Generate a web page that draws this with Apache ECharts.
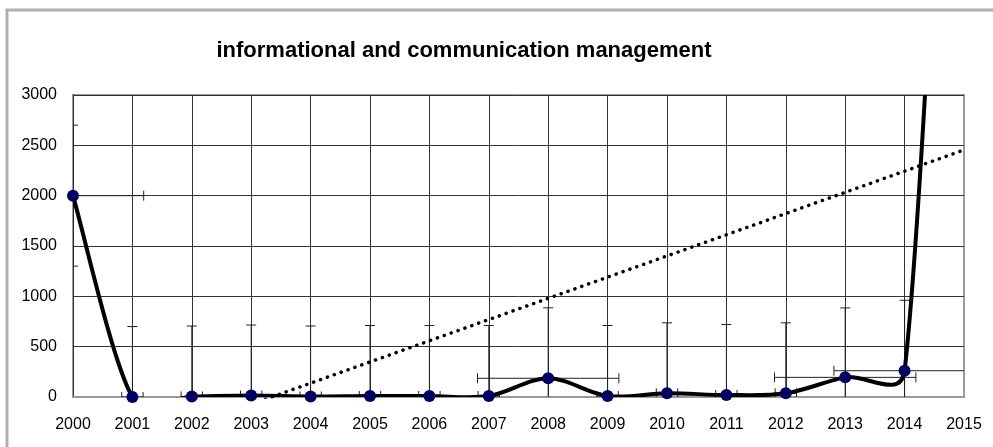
<!DOCTYPE html>
<html>
<head>
<meta charset="utf-8">
<script src="https://cdn.jsdelivr.net/npm/echarts@6/dist/echarts.min.js"></script>
<style>
  html, body { margin: 0; padding: 0; background: #fff; }
  #chart { width: 993px; height: 447px; }
</style>
</head>
<body>
<div id="chart"></div>
<script>
var titleText = 'informational and communication management';
var years = [2000, 2001, 2002, 2003, 2004, 2005, 2006, 2007, 2008, 2009, 2010, 2011, 2012, 2013, 2014, 2015];
var values = [2000, 0, 5, 15, 5, 10, 10, 10, 186, 10, 37, 20, 37, 195, 261, 10400];
// error bars (x in years, y in counts), read from the caps
var xErr = [1.19, 0.18, 0.18, 0.18, 0.18, 0.18, 0.18, 0.18, 1.19, 0.18, 0.18, 0.18, 0.18, 1.19, 1.19];
var yErr = [700, 700, 700, 700, 700, 700, 700, 700, 700, 700, 700, 700, 700, 690, 700];
// linear trendline end points
var trendYears = [2000, 2015];
var trendValues = [-705, 2454];

var chart = echarts.init(document.getElementById('chart'));

var lineData = [];
for (var i = 0; i < years.length; i++) {
    lineData.push([years[i], values[i]]);
}
var errData = [];
for (var j = 0; j < xErr.length; j++) {
    errData.push([years[j], values[j], xErr[j], yErr[j]]);
}
var trendData = [];
for (var k = 0; k < trendYears.length; k++) {
    trendData.push([trendYears[k], trendValues[k]]);
}

var vGridColors = [];
for (var g = 0; g < 16; g++) {
    vGridColors.push(g == 15 ? '#9a9a9a' : '#333');
}

function renderErr(params, api) {
    var x = api.value(0), y = api.value(1), ex = api.value(2), ey = api.value(3);
    var top = api.coord([x, y + ey]);
    var bot = api.coord([x, y - ey]);
    var lft = api.coord([x - ex, y]);
    var rgt = api.coord([x + ex, y]);
    var cap = 5;
    var st = { stroke: '#222', lineWidth: 1 };
    function seg(x1, y1, x2, y2) {
        return { type: 'line', shape: { x1: x1, y1: y1, x2: x2, y2: y2 }, style: st };
    }
    return {
        type: 'group',
        children: [
            seg(top[0], top[1], bot[0], bot[1]),
            seg(top[0] - cap, top[1], top[0] + cap, top[1]),
            seg(bot[0] - cap, bot[1], bot[0] + cap, bot[1]),
            seg(lft[0], lft[1], rgt[0], rgt[1]),
            seg(lft[0], lft[1] - cap, lft[0], lft[1] + cap),
            seg(rgt[0], rgt[1] - cap, rgt[0], rgt[1] + cap)
        ]
    };
}

function dist(a, b) {
    return Math.sqrt((a[0] - b[0]) * (a[0] - b[0]) + (a[1] - b[1]) * (a[1] - b[1]));
}

// spreadsheet-style smoothed line: tangent = chord/6, capped at half the segment
function renderSmooth(params, api) {
    var p = [];
    for (var i = 0; i < lineData.length; i++) {
        p.push(api.coord(lineData[i]));
    }
    var d = 'M' + p[0][0] + ',' + p[0][1];
    for (var s = 0; s < p.length - 1; s++) {
        var p0 = p[Math.max(s - 1, 0)], p1 = p[s], p2 = p[s + 1], p3 = p[Math.min(s + 2, p.length - 1)];
        var half = dist(p1, p2) / 2;
        var d02 = dist(p0, p2), d13 = dist(p1, p3);
        var f0 = d02 > 0 ? Math.min(d02 / 6, half) / d02 : 0;
        var f1 = d13 > 0 ? Math.min(d13 / 6, half) / d13 : 0;
        var c1x = p1[0] + (p2[0] - p0[0]) * f0, c1y = p1[1] + (p2[1] - p0[1]) * f0;
        var c2x = p2[0] - (p3[0] - p1[0]) * f1, c2y = p2[1] - (p3[1] - p1[1]) * f1;
        d += ' C' + c1x + ',' + c1y + ' ' + c2x + ',' + c2y + ' ' + p2[0] + ',' + p2[1];
    }
    return {
        type: 'path',
        shape: { pathData: d },
        style: { fill: 'none', stroke: '#000', lineWidth: 4, lineJoin: 'round' }
    };
}

var option = {
    animation: false,
    backgroundColor: '#fff',
    graphic: [
        {
            type: 'rect',
            shape: { x: 7, y: 10, width: 1100, height: 600 },
            style: { fill: 'none', stroke: '#b0b0b0', lineWidth: 3 },
            z: 100
        },
        {
            type: 'text',
            x: 464,
            y: 51,
            style: {
                text: titleText,
                font: 'bold 22px "Liberation Sans", Arial, sans-serif',
                fill: '#000',
                textAlign: 'center',
                textVerticalAlign: 'middle'
            }
        }
    ],
    grid: {
        left: 73, right: 29, top: 95, bottom: 50,
        show: true, borderColor: '#9a9a9a', borderWidth: 2
    },
    xAxis: {
        type: 'value',
        min: 2000, max: 2015, interval: 1,
        axisLine: { show: true, onZero: false, lineStyle: { color: '#9a9a9a', width: 2 } },
        axisTick: { show: false },
        axisLabel: {
            margin: 20,
            color: '#000',
            fontSize: 16,
            fontFamily: '"Liberation Sans", Arial, sans-serif',
            formatter: function (v) { return String(v); }
        },
        splitLine: { show: true, lineStyle: { color: vGridColors, width: 1 } }
    },
    yAxis: {
        type: 'value',
        min: 0, max: 3000, interval: 500,
        axisLine: { show: true, lineStyle: { color: '#333', width: 1 } },
        axisTick: { show: false },
        axisLabel: {
            margin: 16,
            color: '#000',
            fontSize: 16,
            fontFamily: '"Liberation Sans", Arial, sans-serif',
            formatter: function (v) { return String(v); }
        },
        splitLine: { show: true, lineStyle: { color: '#333', width: 1 } }
    },
    series: [
        {
            type: 'custom',
            renderItem: renderErr,
            data: errData,
            clip: true,
            silent: true,
            z: 2
        },
        {
            type: 'line',
            data: trendData,
            showSymbol: false,
            symbol: 'none',
            silent: true,
            clip: true,
            lineStyle: { color: '#000', width: 3.5, type: [0.1, 7.2], cap: 'round' },
            z: 3
        },
        {
            type: 'custom',
            renderItem: renderSmooth,
            data: [0],
            clip: true,
            silent: true,
            z: 4
        },
        {
            type: 'scatter',
            data: lineData,
            clip: true,
            symbol: 'circle',
            symbolSize: 12,
            itemStyle: { color: '#000066', opacity: 1 },
            z: 5
        }
    ]
};
chart.setOption(option);
</script>
</body>
</html>
